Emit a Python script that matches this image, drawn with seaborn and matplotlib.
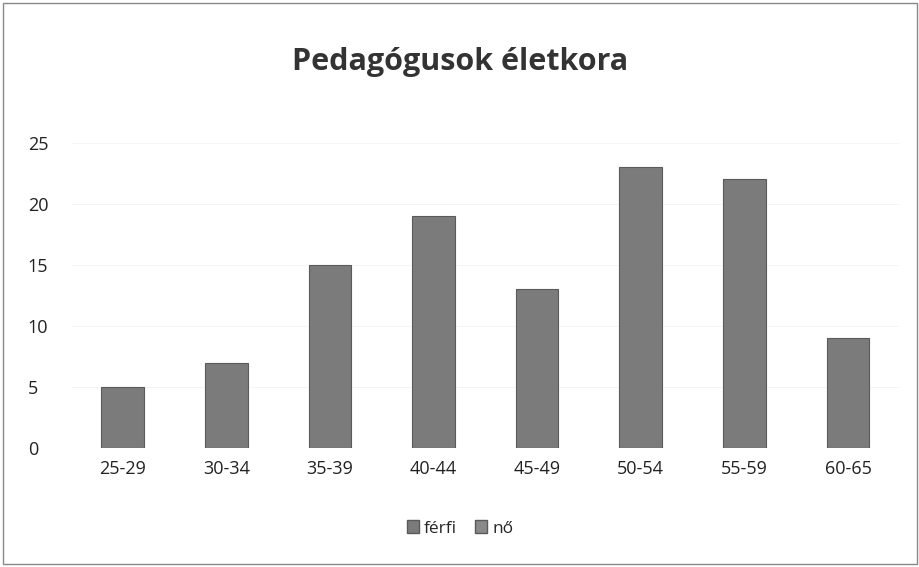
import pandas as pd
import matplotlib.pyplot as plt
import seaborn as sns
from matplotlib.patches import Rectangle

sns.set_theme(style="white")
plt.rcParams['font.family'] = ['Open Sans', 'DejaVu Sans']

# Adatok
korcsoportok = ['25-29', '30-34', '35-39', '40-44', '45-49', '50-54', '55-59', '60-65']
ferfi = [5, 7, 15, 19, 13, 23, 22, 9]
no = [0, 0, 0, 0, 0, 0, 0, 0]

df = pd.DataFrame({
    'korcsoport': korcsoportok * 2,
    'fo': ferfi + no,
    'nem': ['férfi'] * len(korcsoportok) + ['nő'] * len(korcsoportok),
})

fig = plt.figure(figsize=(9.2, 5.67), dpi=100)
ax = fig.add_axes([0.077, 0.21, 0.901, 0.538])

sns.barplot(data=df, x='korcsoport', y='fo', hue='nem', dodge=False,
            palette=['#7b7b7b', '#8a8a8a'], width=0.41, ax=ax,
            edgecolor='#5a5a5a', linewidth=0.8, legend=False)

ax.set_ylim(0, 25)
ax.set_yticks(range(0, 26, 5))
ax.set_xlabel('')
ax.set_ylabel('')
ax.tick_params(axis='both', labelsize=13, colors='#222222', length=0)
ax.tick_params(axis='x', pad=9)
ax.tick_params(axis='y', pad=31)
for lbl in ax.get_yticklabels():
    lbl.set_horizontalalignment('left')
ax.yaxis.grid(True, color='#f4f4f4', linewidth=0.6)
sns.despine(ax=ax, left=True, bottom=True)

fig.text(0.5, 0.89, 'Pedagógusok életkora', ha='center', va='center',
         fontsize=22, fontweight='bold', color='#333333')

handles = [Rectangle((0, 0), 1, 1, facecolor='#7b7b7b', edgecolor='#5a5a5a'),
           Rectangle((0, 0), 1, 1, facecolor='#8a8a8a', edgecolor='#5a5a5a')]
fig.legend(handles, ['férfi', 'nő'], loc='center', bbox_to_anchor=(0.5, 0.068),
           ncol=2, frameon=False, fontsize=12.5, handlelength=0.7, handleheight=0.7,
           handletextpad=0.3, columnspacing=1.0)

fig.patches.append(Rectangle((0.003, 0.005), 0.994, 0.99, transform=fig.transFigure,
                             fill=False, edgecolor='#888888', linewidth=1))

plt.savefig('out.png', dpi=100)
